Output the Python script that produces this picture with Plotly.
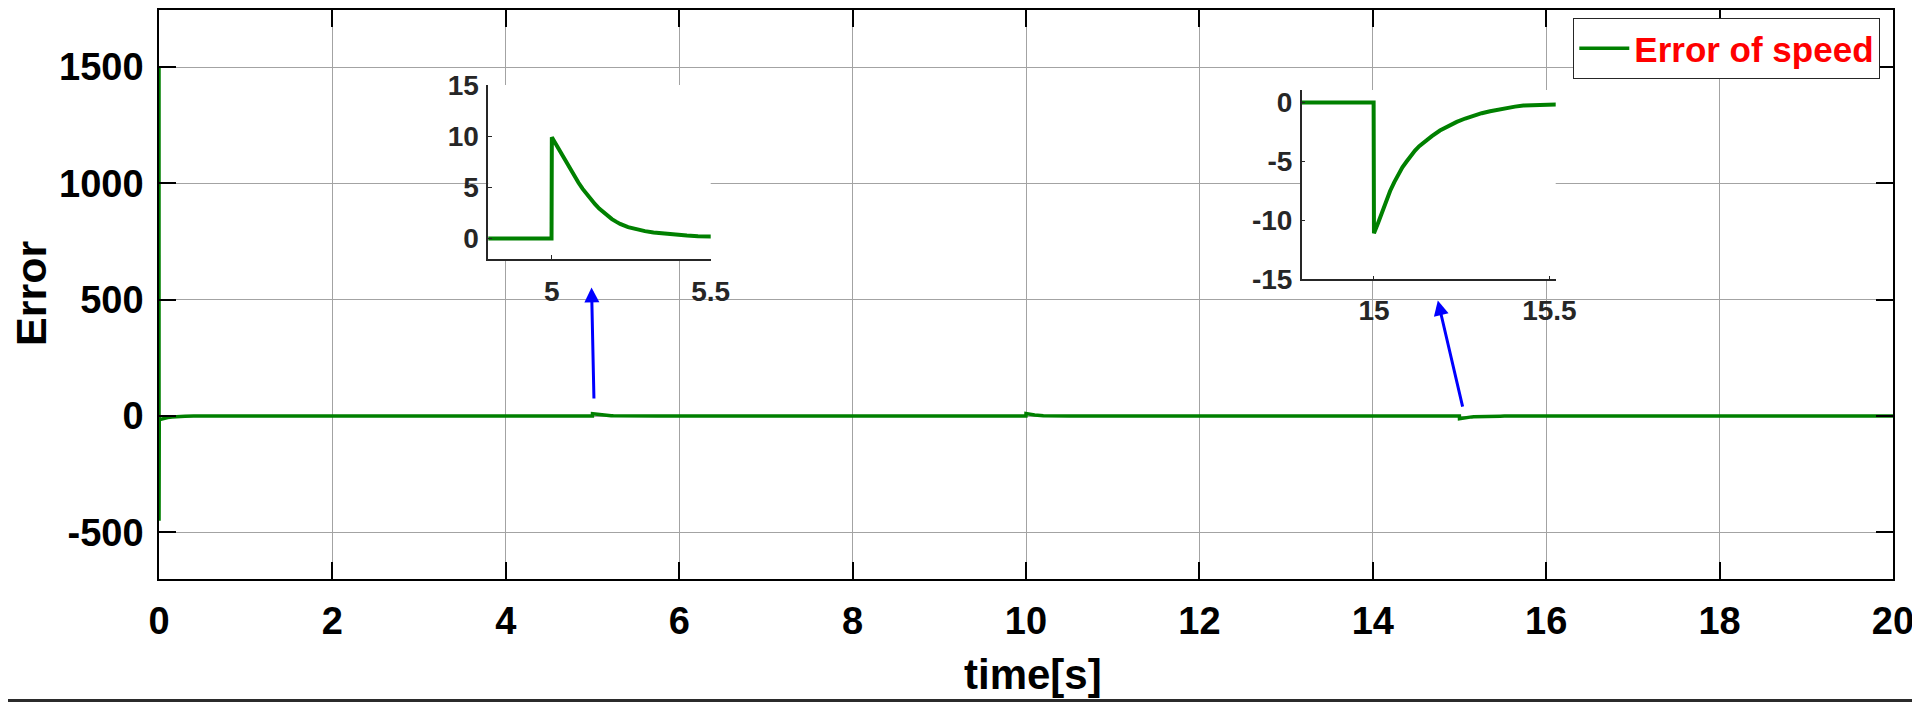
import plotly.graph_objects as go

# ---------------- data ----------------
# start-up transient
t_start = [0.0, 0.0003, 0.003, 0.02, 0.05, 0.1, 0.15, 0.2, 0.3, 0.4]
e_start = [1500, -450, -18, -14, -10, -6, -3.5, -2, -0.8, 0]

# load step at t = 5 s
t_ev1 = [4.999, 5.0, 5.013, 5.026, 5.042, 5.058, 5.071, 5.084, 5.097, 5.11, 5.123,
         5.136, 5.149, 5.162, 5.175, 5.189, 5.202, 5.215, 5.24, 5.267, 5.293,
         5.32, 5.346, 5.372, 5.4, 5.425, 5.46, 5.5, 5.6, 5.75, 6.0]
e_ev1 = [0, 9.9, 9.2, 8.5, 7.6, 6.75, 6.05, 5.45, 4.85, 4.3, 3.8,
         3.35, 2.92, 2.55, 2.2, 1.9, 1.65, 1.43, 1.12, 0.88, 0.72,
         0.59, 0.5, 0.42, 0.35, 0.29, 0.22, 0.16, 0.08, 0.02, 0]

# step at t = 10 s
t_ev2 = [9.999, 10.0, 10.05, 10.1, 10.2, 10.3, 10.5, 10.8]
e_ev2 = [0, 11, 7.5, 4.8, 1.8, 0.8, 0.2, 0]

# load step at t = 15 s
t_ev3 = [14.999, 15.0, 15.012, 15.022, 15.034, 15.046, 15.058, 15.069, 15.081,
         15.093, 15.105, 15.117, 15.129, 15.141, 15.165, 15.188, 15.212, 15.236,
         15.26, 15.283, 15.307, 15.331, 15.355, 15.378, 15.402, 15.426, 15.47,
         15.518, 15.65, 15.85, 16.2]
e_ev3 = [0, -11.1, -10.2, -9.4, -8.4, -7.5, -6.75, -6.1, -5.5,
         -5.0, -4.5, -4.07, -3.7, -3.4, -2.85, -2.37, -1.98, -1.64,
         -1.35, -1.1, -0.9, -0.73, -0.58, -0.45, -0.34, -0.25, -0.17,
         -0.11, -0.05, -0.01, 0]

t_end = [20.0]
e_end = [0]

x_ticks = [0, 2, 4, 6, 8, 10, 12, 14, 16, 18, 20]
x_ticktext = ["0", "2", "4", "6", "8", "10", "12", "14", "16", "18", "20"]
y_ticks = [-500, 0, 500, 1000, 1500]
y_ticktext = ["-500", "0", "500", "1000", "1500"]

in1_xticks = [5, 5.5]
in1_xtext = ["5", "5.5"]
in1_yticks = [0, 5, 10, 15]
in1_ytext = ["0", "5", "10", "15"]

in2_xticks = [15, 15.5]
in2_xtext = ["15", "15.5"]
in2_yticks = [-15, -10, -5, 0]
in2_ytext = ["-15", "-10", "-5", "0"]

series_name = "Error of speed"

# ---------------- assemble series ----------------
t = t_start + t_ev1 + t_ev2 + t_ev3 + t_end
e = e_start + e_ev1 + e_ev2 + e_ev3 + e_end

GREEN = "#008000"
FONT = "Liberation Sans"

# page offset of the figure (default body margin) and plot-area geometry in window pixels
OFF = 8
L, T, W, H = 159, 10, 1734, 569
FIG_W, FIG_H = 1920 - OFF, 702 - OFF


def px2paper_x(px):
    return (px - L) / W


def px2paper_y(py):
    return 1 - (py - T) / H


fig = go.Figure()

fig.add_trace(go.Scatter(x=t, y=e, mode="lines", name=series_name,
                         line=dict(color=GREEN, width=3.5),
                         xaxis="x", yaxis="y", showlegend=True))
fig.add_trace(go.Scatter(x=t, y=e, mode="lines", name=series_name,
                         line=dict(color=GREEN, width=4),
                         xaxis="x2", yaxis="y2", showlegend=False))
fig.add_trace(go.Scatter(x=t, y=e, mode="lines", name=series_name,
                         line=dict(color=GREEN, width=4),
                         xaxis="x3", yaxis="y3", showlegend=False))

main_axis = dict(showgrid=True, gridcolor="#a3a3a3", gridwidth=1,
                 zeroline=False, showline=True, linecolor="black", linewidth=1.5,
                 mirror="ticks", ticks="inside", ticklen=17, tickwidth=1.5,
                 tickcolor="black",
                 tickfont=dict(family=FONT, size=38, color="black", weight="bold"))

inset_axis = dict(showgrid=False, zeroline=False, showline=True,
                  linecolor="#262626", linewidth=1.5, mirror=False,
                  ticks="inside", ticklen=4, tickwidth=1.2, tickcolor="#262626",
                  tickfont=dict(family=FONT, size=28, color="#262626", weight="bold"))

fig.update_layout(
    width=FIG_W, height=FIG_H,
    margin=dict(l=L - OFF, r=FIG_W - (L - OFF) - W, t=T - OFF,
                b=FIG_H - (T - OFF) - H, autoexpand=False),
    paper_bgcolor="white", plot_bgcolor="white",
    xaxis=dict(main_axis, domain=[0, 1], range=[0, 20], tickvals=x_ticks,
               ticktext=x_ticktext, ticklabelstandoff=8, anchor="y"),
    yaxis=dict(main_axis, domain=[0, 1], range=[-700, 1745], tickvals=y_ticks,
               ticktext=y_ticktext, ticklabelstandoff=6, anchor="x"),
    xaxis2=dict(inset_axis, domain=[px2paper_x(488.3), px2paper_x(710.7)],
                range=[4.8, 5.5], tickvals=in1_xticks, ticktext=in1_xtext,
                ticklabelstandoff=7, anchor="y2"),
    yaxis2=dict(inset_axis, domain=[px2paper_y(259), px2paper_y(85)],
                range=[-2, 15], tickvals=in1_yticks, ticktext=in1_ytext,
                ticklabelstandoff=2, anchor="x2"),
    xaxis3=dict(inset_axis, domain=[px2paper_x(1301.7), px2paper_x(1555.7)],
                range=[14.794, 15.518], tickvals=in2_xticks, ticktext=in2_xtext,
                ticklabelstandoff=5, anchor="y3"),
    yaxis3=dict(inset_axis, domain=[px2paper_y(279.3), px2paper_y(90)],
                range=[-15, 1.07], tickvals=in2_yticks, ticktext=in2_ytext,
                ticklabelstandoff=2, anchor="x3"),
    legend=dict(x=px2paper_x(1880.3), y=px2paper_y(18), xanchor="right",
                yanchor="top", bgcolor="white", bordercolor="#262626",
                borderwidth=1, itemwidth=50,
                font=dict(family=FONT, size=35, color="red", weight="bold")),
    showlegend=True,
)

# white backgrounds of the insets
for xr, yr in (("x2", "y2"), ("x3", "y3")):
    fig.add_shape(type="rect", xref=f"{xr} domain", yref=f"{yr} domain",
                  x0=0, x1=1, y0=0, y1=1, fillcolor="white",
                  line=dict(width=0), layer="below")

# axis titles
fig.add_annotation(text="time[s]", xref="paper", yref="paper",
                   x=px2paper_x(1033), y=px2paper_y(674), xanchor="center",
                   yanchor="middle", showarrow=False,
                   font=dict(family=FONT, size=42, color="black", weight="bold"))
fig.add_annotation(text="Error", xref="paper", yref="paper",
                   x=px2paper_x(31), y=px2paper_y(294), xanchor="center",
                   yanchor="middle", textangle=-90, showarrow=False,
                   font=dict(family=FONT, size=43, color="black", weight="bold"))

# blue arrows pointing to the insets
fig.add_annotation(x=4.989, y=553, ax=5.017, ay=69, xref="x", yref="y",
                   axref="x", ayref="y", text="", showarrow=True,
                   arrowhead=2, arrowsize=1.0, arrowwidth=3, arrowcolor="#0000ff",
                   standoff=0, startstandoff=0)
fig.add_annotation(x=14.75, y=497, ax=15.04, ay=34, xref="x", yref="y",
                   axref="x", ayref="y", text="", showarrow=True,
                   arrowhead=2, arrowsize=1.0, arrowwidth=3, arrowcolor="#0000ff",
                   standoff=0, startstandoff=0)

# dark window edges at right and bottom
fig.add_shape(type="rect", xref="paper", yref="paper",
              x0=px2paper_x(1915), x1=px2paper_x(1921), y0=px2paper_y(703), y1=px2paper_y(OFF - 1),
              fillcolor="#2b2b2b", line=dict(width=0), layer="above")
fig.add_shape(type="rect", xref="paper", yref="paper",
              x0=px2paper_x(OFF - 1), x1=px2paper_x(1921), y0=px2paper_y(703), y1=px2paper_y(699),
              fillcolor="#2b2b2b", line=dict(width=0), layer="above")

fig.write_html("out.html")
